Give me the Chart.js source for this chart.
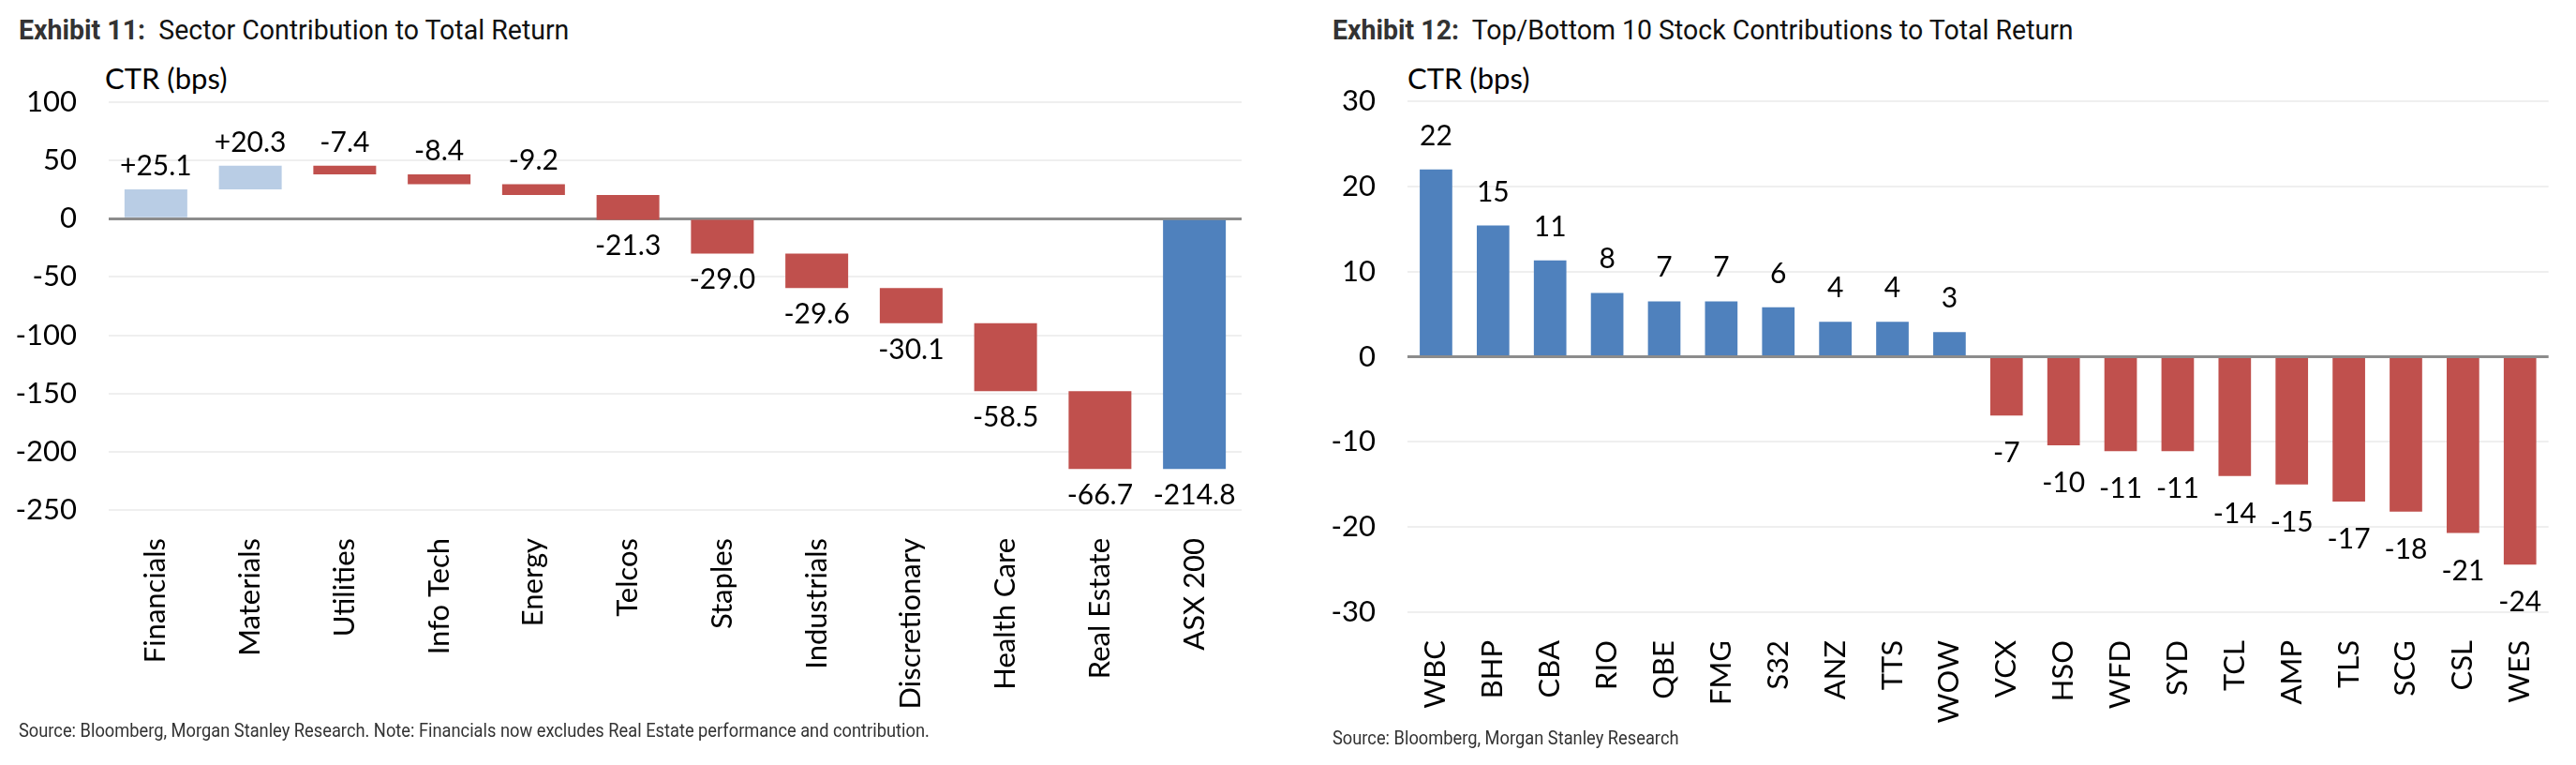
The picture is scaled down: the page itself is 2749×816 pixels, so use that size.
<!DOCTYPE html>
<html>
<head>
<meta charset="utf-8">
<script src="https://cdn.jsdelivr.net/npm/chart.js@4"></script>
<style>
  body { margin: 0; width: 2749px; height: 816px; background: #fff; position: relative; overflow: hidden; font-family: Roboto, sans-serif; }
  .titulo { position: absolute; top: 14px; font-size: 30px; color: #111; white-space: nowrap; transform: scaleX(0.95); transform-origin: left top; }
  .titulo b { color: #333; }
  .fonte { position: absolute; font-size: 21px; color: #333; white-space: nowrap; transform: scaleX(0.87); transform-origin: left top; }
  .unidade { position: absolute; top: 64px; font-family: Lato, sans-serif; font-size: 31px; color: #000; }
  .caixa { position: absolute; top: 0; height: 816px; }
</style>
</head>
<body>
<div class="titulo" style="left:20px"><b>Exhibit 11:</b>&nbsp; Sector Contribution to Total Return</div>
<div class="titulo" style="left:1422px"><b>Exhibit 12:</b>&nbsp; Top/Bottom 10 Stock Contributions to Total Return</div>
<div class="unidade" style="left:112px">CTR (bps)</div>
<div class="unidade" style="left:1502px">CTR (bps)</div>
<div class="caixa" style="left:0; width:1380px"><canvas id="graficoSetores"></canvas></div>
<div class="caixa" style="left:1390px; width:1359px"><canvas id="graficoAcoes"></canvas></div>
<div class="fonte" style="left:20px; top:767px">Source: Bloomberg, Morgan Stanley Research. Note: Financials now excludes Real Estate performance and contribution.</div>
<div class="fonte" style="left:1422px; top:775px">Source: Bloomberg, Morgan Stanley Research</div>

<script>
// Exhibit 11 - contribuicao por setor (waterfall)
const setores = ["Financials", "Materials", "Utilities", "Info Tech", "Energy", "Telcos", "Staples", "Industrials", "Discretionary", "Health Care", "Real Estate", "ASX 200"];
const contribSetores = [25.1, 20.3, -7.4, -8.4, -9.2, -21.3, -29.0, -29.6, -30.1, -58.5, -66.7];
const totalASX = -214.8;
const ticksSetores = { min: -250, max: 100, passo: 50 };

// Exhibit 12 - top/bottom 10 acoes
const acoes = ["WBC", "BHP", "CBA", "RIO", "QBE", "FMG", "S32", "ANZ", "TTS", "WOW", "VCX", "HSO", "WFD", "SYD", "TCL", "AMP", "TLS", "SCG", "CSL", "WES"];
const contribAcoes = [22.0, 15.4, 11.3, 7.5, 6.5, 6.5, 5.8, 4.1, 4.1, 2.9, -6.9, -10.4, -11.1, -11.1, -14.0, -15.0, -17.0, -18.2, -20.7, -24.4];
const ticksAcoes = { min: -30, max: 30, passo: 10 };

const azulClaro = "#B9CDE5";
const vermelho = "#C0504D";
const azul = "#4F81BD";
const fonteEixo = "Lato, sans-serif";

// Montar barras flutuantes do waterfall
let acumulado = 0;
const barrasSetores = contribSetores.map(v => {
  const inicio = acumulado;
  acumulado = Math.round((acumulado + v) * 10) / 10;
  return [inicio, acumulado];
});
barrasSetores.push([0, totalASX]);
const valoresSetores = contribSetores.concat([totalASX]);
const coresSetores = valoresSetores.map((v, i) => i === valoresSetores.length - 1 ? azul : (v > 0 ? azulClaro : vermelho));

// Plugin de rotulos
function criarRotulos(textos, acima, gapCima, gapBaixo) {
  return {
    id: "rotulos",
    afterDatasetsDraw(chart) {
      const ctx = chart.ctx;
      const meta = chart.getDatasetMeta(0);
      ctx.save();
      ctx.font = "30px " + fonteEixo;
      ctx.fillStyle = "#000";
      ctx.textAlign = "center";
      ctx.textBaseline = "alphabetic";
      meta.data.forEach((barra, i) => {
        const topo = Math.min(barra.y, barra.base);
        const fundo = Math.max(barra.y, barra.base);
        if (acima[i]) {
          ctx.fillText(textos[i], barra.x, topo - gapCima);
        } else {
          ctx.fillText(textos[i], barra.x, fundo + gapBaixo + 22);
        }
      });
      ctx.restore();
    }
  };
}

function corGrade(c) { return c.tick && c.tick.value === 0 ? "#8C8C8C" : "#EFEFEF"; }
function larguraGrade(c) { return c.tick && c.tick.value === 0 ? 3 : 2; }

function opcoesBase(ticks, larguraY, alturaX, padDireita, padTopo) {
  return {
    responsive: true,
    maintainAspectRatio: false,
    devicePixelRatio: 1,
    animation: false,
    layout: { padding: { top: padTopo, right: padDireita, left: 0, bottom: 0 } },
    plugins: { legend: { display: false }, tooltip: { enabled: false } },
    scales: {
      x: {
        grid: { display: false },
        border: { display: false },
        ticks: { minRotation: 90, maxRotation: 90, padding: 22, color: "#000", font: { family: fonteEixo, size: 31 } },
        afterFit: s => { s.height = alturaX; }
      },
      y: {
        min: ticks.min,
        max: ticks.max,
        border: { display: false },
        grid: { color: corGrade, lineWidth: larguraGrade, drawTicks: false },
        ticks: { stepSize: ticks.passo, padding: 34, color: "#000", font: { family: fonteEixo, size: 31 } },
        afterFit: s => { s.width = larguraY; }
      }
    }
  };
}

// Grafico de setores
const textosSetores = valoresSetores.map(v => (v > 0 ? "+" : "") + v.toFixed(1));
const acimaSetores = barrasSetores.map((b, i) => i < barrasSetores.length - 1 && Math.min(b[0], b[1]) >= 0);
new Chart(document.getElementById("graficoSetores"), {
  type: "bar",
  data: {
    labels: setores,
    datasets: [{ data: barrasSetores, backgroundColor: coresSetores, barPercentage: 0.665, categoryPercentage: 1 }]
  },
  options: opcoesBase(ticksSetores, 116, 272, 55, 109),
  plugins: [criarRotulos(textosSetores, acimaSetores, 15, 16)]
});

// Grafico de acoes
const textosAcoes = contribAcoes.map(v => String(Math.round(v)));
const acimaAcoes = contribAcoes.map(v => v > 0);
new Chart(document.getElementById("graficoAcoes"), {
  type: "bar",
  data: {
    labels: acoes,
    datasets: [{ data: contribAcoes, backgroundColor: contribAcoes.map(v => v > 0 ? azul : vermelho), barPercentage: 0.57, categoryPercentage: 1 }]
  },
  options: opcoesBase(ticksAcoes, 112, 163, 22, 108),
  plugins: [criarRotulos(textosAcoes, acimaAcoes, 26, 28)]
});
</script>
</body>
</html>
